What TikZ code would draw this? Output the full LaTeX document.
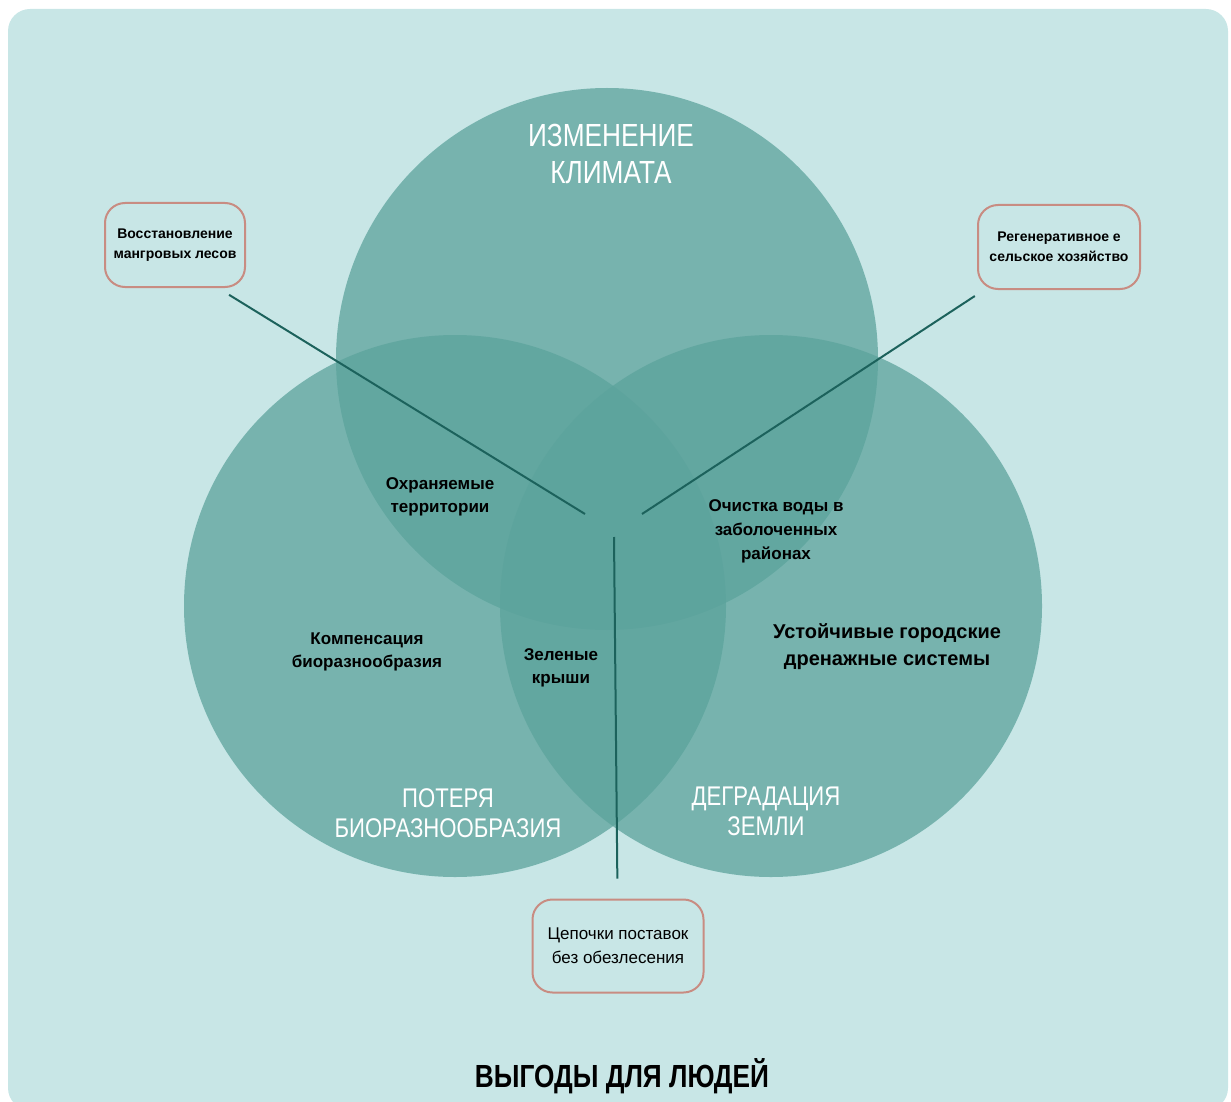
\documentclass[tikz,border=0pt]{standalone}
\usepackage{fontspec}
\setmainfont{Liberation Sans}
\newfontfamily\narrowfont[FakeStretch=0.82]{Liberation Sans}

\definecolor{bgteal}{RGB}{200,230,230}
\definecolor{circteal}{RGB}{92,163,156}
\definecolor{linkteal}{RGB}{28,98,92}
\definecolor{boxrose}{RGB}{200,140,130}

\begin{document}
\begin{tikzpicture}[x=1pt, y=-1pt]
        \useasboundingbox (0,0) rectangle (1231,1102);
        \fill[bgteal, rounded corners=22pt] (8,9) rectangle (1228,1110);
        \begin{scope}[fill opacity=0.75]
            \fill[circteal] (607,359) circle [radius=271pt];
            \fill[circteal] (455,606) circle [radius=271pt];
            \fill[circteal] (771,606) circle [radius=271pt];
        \end{scope}
        \begin{scope}[every node/.style={text=white, align=center, font=\narrowfont\fontsize{32}{37}\selectfont}]
            \node (clim) at (611,154) {ИЗМЕНЕНИЕ\\КЛИМАТА};
            \node[font=\narrowfont\fontsize{27}{30}\selectfont] (bio) at (448,813) {ПОТЕРЯ\\БИОРАЗНООБРАЗИЯ};
            \node[font=\narrowfont\fontsize{27}{30}\selectfont] (land) at (766,811) {ДЕГРАДАЦИЯ\\ЗЕМЛИ};
        \end{scope}
        \begin{scope}[every node/.style={align=center, font=\bfseries\fontsize{17}{23}\selectfont}]
            \node (prot) at (440,497) {Охраняемые\\территории};
            \node[font=\bfseries\fontsize{17}{24}\selectfont] (water) at (776,531) {Очистка воды в\\заболоченных\\районах};
            \node (comp) at (367,652) {Компенсация\\биоразнообразия};
            \node (roofs) at (561,668) {Зеленые\\крыши};
            \node[font=\bfseries\fontsize{20}{27}\selectfont] (drain) at (887,647) {Устойчивые городские\\дренажные системы};
            \node[font=\narrowfont\bfseries\fontsize{32}{32}\selectfont] (benefit) at (622,1076) {ВЫГОДЫ ДЛЯ ЛЮДЕЙ};
        \end{scope}
        \begin{scope}[every node/.style={draw=boxrose, line width=2pt, fill=bgteal, rounded corners=20pt, align=center, inner sep=0, font=\bfseries\fontsize{14}{20}\selectfont}]
            \node[minimum width=140pt, minimum height=84pt] (mangr) at (175,245) {Восстановление\\мангровых лесов};
            \node[minimum width=162pt, minimum height=84pt] (regen) at (1059,247) {Регенеративное е\\сельское хозяйство};
            \node[minimum width=171pt, minimum height=93pt, font=\fontsize{17}{24}\selectfont] (supply) at (618,946) {Цепочки поставок\\без обезлесения};
        \end{scope}
        \coordinate (hubl) at (585,514);
        \coordinate (hubr) at (642,514);
        \coordinate (hubb) at (614,537);
        \begin{scope}[every path/.style={line width=2pt, linkteal}]
            \path ([xshift=43pt]mangr.south) edge [shorten <=13pt] (hubl);
            \path ([xshift=-75pt]regen.south) edge [shorten <=11pt] (hubr);
            \path (supply) edge [shorten <=20pt] (hubb);
        \end{scope}
    \end{tikzpicture}
\end{document}
